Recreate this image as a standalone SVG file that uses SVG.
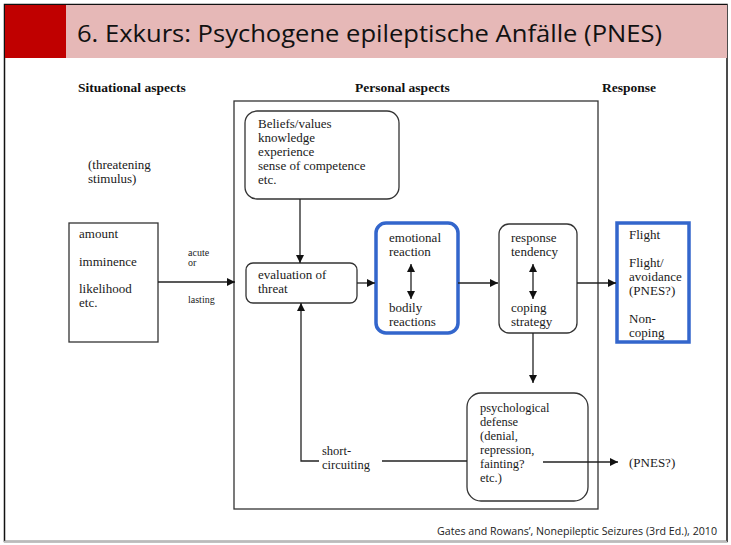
<svg xmlns="http://www.w3.org/2000/svg" width="731" height="545" viewBox="0 0 731 545">
<defs>
<style>
.t{font-family:"Liberation Serif","Times New Roman",serif;font-size:13px;fill:#1a1a1a}
.c{font-size:12.5px}
.h{font-family:"Liberation Serif","Times New Roman",serif;font-size:13.5px;font-weight:bold;fill:#111}
.s{font-family:"Liberation Serif","Times New Roman",serif;font-size:10px;fill:#222}
.box{fill:#fff;stroke:#333;stroke-width:1.3}
.blue{fill:#fff;stroke:#3366cc;stroke-width:3.5}
.ln{fill:none;stroke:#222;stroke-width:1.3}
</style>
<marker id="ah" viewBox="0 0 10 10" refX="10" refY="5" markerWidth="8" markerHeight="8" markerUnits="userSpaceOnUse" orient="auto-start-reverse">
<path d="M0,0 L10,5 L0,10 Z" fill="#111"/>
</marker>
</defs>
<rect x="0" y="0" width="731" height="545" fill="#fff"/>
<g id="slide-frame">
<rect x="4.5" y="4.5" width="722.5" height="537" fill="none" stroke="#111" stroke-width="1.5"/>
<line x1="4" y1="541.5" x2="727" y2="541.5" stroke="#bbb" stroke-width="1.5"/>
</g>
<g id="title">
<rect x="5" y="5" width="61" height="53" fill="#c00000"/>
<rect x="66" y="5" width="661" height="53" fill="#e6b8b7"/>
<text x="77" y="42" font-family="'Open Sans','Liberation Sans',sans-serif" font-size="23" fill="#111" textLength="585" lengthAdjust="spacingAndGlyphs">6. Exkurs: Psychogene epileptische Anfälle (PNES)</text>
</g>
<g id="headers">
<text class="h" x="78" y="92">Situational aspects</text>
<text class="h" x="355" y="92">Personal aspects</text>
<text class="h" x="602" y="92">Response</text>
</g>
<g id="personal-frame">
<rect x="234" y="101" width="364" height="408" fill="none" stroke="#333" stroke-width="1.3"/>
</g>
<g id="threatening-stimulus">
<text class="t" x="88" y="169">(threatening</text>
<text class="t" x="88" y="183">stimulus)</text>
</g>
<g id="situational">
<rect x="69" y="223" width="89" height="119" class="box"/>
<text class="t" x="79" y="238">amount</text>
<text class="t" x="79" y="266">imminence</text>
<text class="t" x="79" y="293">likelihood</text>
<text class="t" x="79" y="307">etc.</text>
</g>
<g id="beliefs">
<rect x="245" y="111" width="154" height="88" rx="12" class="box"/>
<text class="t" x="258" y="128">Beliefs/values</text>
<text class="t" x="258" y="142">knowledge</text>
<text class="t" x="258" y="156">experience</text>
<text class="t" x="258" y="170">sense of competence</text>
<text class="t" x="258" y="184">etc.</text>
</g>
<g id="evaluation">
<rect x="246" y="263" width="111" height="40" rx="7" class="box"/>
<text class="t" x="258" y="279">evaluation of</text>
<text class="t" x="258" y="293">threat</text>
</g>
<g id="emotional">
<rect x="376" y="223" width="82" height="110" rx="10" class="blue"/>
<text class="t" x="389" y="242">emotional</text>
<text class="t" x="389" y="256">reaction</text>
<text class="t" x="389" y="312">bodily</text>
<text class="t" x="389" y="326">reactions</text>
</g>
<g id="response-tendency">
<rect x="499" y="224" width="78" height="109" rx="10" class="box"/>
<text class="t" x="511" y="242">response</text>
<text class="t" x="511" y="256">tendency</text>
<text class="t" x="511" y="312">coping</text>
<text class="t" x="511" y="326">strategy</text>
</g>
<g id="response">
<rect x="617" y="223" width="72" height="119" class="blue"/>
<text class="t" x="629" y="239">Flight</text>
<text class="t" x="629" y="267">Flight/</text>
<text class="t" x="629" y="281">avoidance</text>
<text class="t" x="629" y="295">(PNES?)</text>
<text class="t" x="629" y="323">Non-</text>
<text class="t" x="629" y="337">coping</text>
</g>
<g id="psychological-defense">
<rect x="467" y="393" width="121" height="108" rx="14" class="box"/>
<text class="t c" x="480" y="412">psychological</text>
<text class="t c" x="480" y="426">defense</text>
<text class="t c" x="480" y="440">(denial,</text>
<text class="t c" x="480" y="454">repression,</text>
<text class="t c" x="480" y="468">fainting?</text>
<text class="t c" x="480" y="482">etc.)</text>
</g>
<g id="pnes-out">
<text class="t" x="629" y="467">(PNES?)</text>
</g>
<g id="connectors">
<line class="ln" x1="158" y1="282" x2="235" y2="282" marker-end="url(#ah)"/>
<text class="s" x="188" y="256">acute</text>
<text class="s" x="188" y="266">or</text>
<text class="s" x="188" y="303">lasting</text>
<line class="ln" x1="300" y1="199" x2="300" y2="263" marker-end="url(#ah)"/>
<line class="ln" x1="357" y1="283" x2="375" y2="283" marker-end="url(#ah)"/>
<line class="ln" x1="411" y1="264" x2="411" y2="299" marker-start="url(#ah)" marker-end="url(#ah)"/>
<line class="ln" x1="458" y1="283" x2="498" y2="283" marker-end="url(#ah)"/>
<line class="ln" x1="533" y1="264" x2="533" y2="299" marker-start="url(#ah)" marker-end="url(#ah)"/>
<line class="ln" x1="577" y1="283" x2="616" y2="283" marker-end="url(#ah)"/>
<line class="ln" x1="533" y1="333" x2="533" y2="383" marker-end="url(#ah)"/>
<line class="ln" x1="543" y1="462" x2="618" y2="462" marker-end="url(#ah)"/>
<line class="ln" x1="467" y1="461" x2="382" y2="461"/>
<polyline class="ln" points="319,461 301,461 301,303" marker-end="url(#ah)"/>
<text class="t c" x="322" y="455">short-</text>
<text class="t c" x="322" y="469">circuiting</text>
</g>
<g id="citation">
<text x="717" y="535" text-anchor="end" font-family="'Open Sans','Liberation Sans',sans-serif" font-size="11" fill="#222" textLength="280" lengthAdjust="spacingAndGlyphs">Gates and Rowans’, Nonepileptic Seizures (3rd Ed.), 2010</text>
</g>
</svg>
